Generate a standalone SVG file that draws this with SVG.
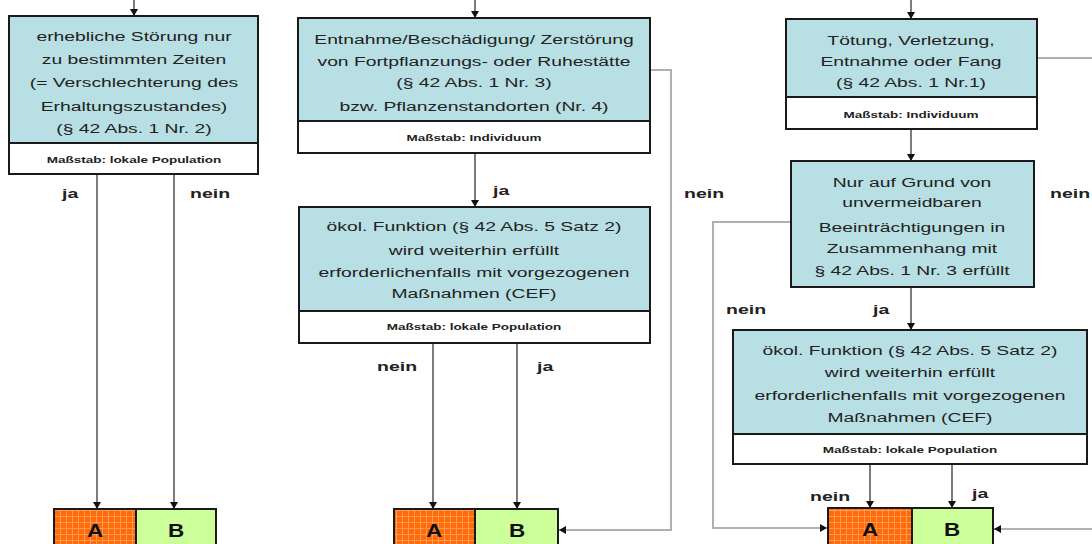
<svg xmlns="http://www.w3.org/2000/svg" width="1092" height="544" viewBox="0 0 1092 544">
<style>
.teal{fill:#b8dfe3;stroke:none}
.white{fill:#ffffff;stroke:none}
.frame{fill:none;stroke:#1a1a1a;stroke-width:2}
.t{font-family:"Liberation Sans",Arial,sans-serif;font-size:13.5px;fill:#222;text-anchor:middle}
.s{font-family:"Liberation Sans",Arial,sans-serif;font-size:9px;font-weight:bold;fill:#222;text-anchor:middle}
.l{font-family:"Liberation Sans",Arial,sans-serif;font-size:13px;font-weight:bold;fill:#222}
.ab{font-family:"Liberation Sans",Arial,sans-serif;font-size:18px;font-weight:bold;fill:#111;text-anchor:middle}
.dark{fill:none;stroke:#444;stroke-width:1.4}
.grey{fill:none;stroke:#b0b0b0;stroke-width:2}
.afill{fill:url(#grid)}
.bfill{fill:#ccff99}
</style>
<defs>
<pattern id="grid" width="6" height="6" patternUnits="userSpaceOnUse">
<rect width="6" height="6" fill="#ff6a0a"/>
<path d="M0 0.5H6M0.5 0V6" stroke="#ff9a50" stroke-width="1"/>
</pattern>
<marker id="arr" markerUnits="userSpaceOnUse" markerWidth="8" markerHeight="8" refX="7" refY="4" orient="auto">
<path d="M0 0L7 4L0 8Z" fill="#111"/>
</marker>
</defs>

<g id="connectors">
<path class="dark" d="M134 0V16" marker-end="url(#arr)"/>
<path class="dark" d="M475 0V18" marker-end="url(#arr)"/>
<path class="dark" d="M911 0V19" marker-end="url(#arr)"/>
<path class="dark" d="M97 174V509" marker-end="url(#arr)"/>
<path class="dark" d="M174 174V509" marker-end="url(#arr)"/>
<path class="dark" d="M475 153V207" marker-end="url(#arr)"/>
<path class="dark" d="M433 343V509" marker-end="url(#arr)"/>
<path class="dark" d="M517 343V509" marker-end="url(#arr)"/>
<path class="dark" d="M911 129V161" marker-end="url(#arr)"/>
<path class="dark" d="M911 287V330" marker-end="url(#arr)"/>
<path class="dark" d="M870 464V508" marker-end="url(#arr)"/>
<path class="dark" d="M952 464V508" marker-end="url(#arr)"/>
<path class="grey" d="M650 70H671V530H559" marker-end="url(#arr)"/>
<path class="grey" d="M791 222H713V528H827" marker-end="url(#arr)"/>
<path class="grey" d="M1037 58H1092"/>
<path class="grey" d="M1092 529H994" marker-end="url(#arr)"/>
</g>

<g id="labels">
<text class="l" transform="translate(62,198) scale(1.5,1)">ja</text>
<text class="l" transform="translate(190,198) scale(1.5,1)">nein</text>
<text class="l" transform="translate(493,195) scale(1.5,1)">ja</text>
<text class="l" transform="translate(684,198) scale(1.5,1)">nein</text>
<text class="l" transform="translate(377,371) scale(1.5,1)">nein</text>
<text class="l" transform="translate(537,371) scale(1.5,1)">ja</text>
<text class="l" transform="translate(1050,198) scale(1.5,1)">nein</text>
<text class="l" transform="translate(726,314) scale(1.5,1)">nein</text>
<text class="l" transform="translate(873,314) scale(1.5,1)">ja</text>
<text class="l" transform="translate(810,501) scale(1.5,1)">nein</text>
<text class="l" transform="translate(972,498) scale(1.5,1)">ja</text>
</g>

<g id="box1">
<rect class="teal" x="9" y="16" width="249" height="127"/>
<rect class="white" x="9" y="143" width="249" height="31"/>
<rect class="frame" x="9" y="16" width="249" height="158"/>
<path class="frame" d="M9 143H258"/>
<text class="t" transform="translate(134,41) scale(1.43,1)">erhebliche Störung nur</text>
<text class="t" transform="translate(134,64) scale(1.43,1)">zu bestimmten Zeiten</text>
<text class="t" transform="translate(134,87) scale(1.43,1)">(= Verschlechterung des</text>
<text class="t" transform="translate(134,111) scale(1.43,1)">Erhaltungszustandes)</text>
<text class="t" transform="translate(134,133) scale(1.43,1)">(§ 42 Abs. 1 Nr. 2)</text>
<text class="s" transform="translate(134,163) scale(1.5,1)">Maßstab: lokale Population</text>
</g>

<g id="box2">
<rect class="teal" x="298" y="18" width="352" height="103"/>
<rect class="white" x="298" y="121" width="352" height="32"/>
<rect class="frame" x="298" y="18" width="352" height="135"/>
<path class="frame" d="M298 121H650"/>
<text class="t" transform="translate(474,44) scale(1.43,1)">Entnahme/Beschädigung/ Zerstörung</text>
<text class="t" transform="translate(474,66) scale(1.43,1)">von Fortpflanzungs- oder Ruhestätte</text>
<text class="t" transform="translate(474,87) scale(1.43,1)">(§ 42 Abs. 1 Nr. 3)</text>
<text class="t" transform="translate(474,111) scale(1.43,1)">bzw. Pflanzenstandorten (Nr. 4)</text>
<text class="s" transform="translate(474,141) scale(1.5,1)">Maßstab: Individuum</text>
</g>

<g id="box3">
<rect class="teal" x="299" y="207" width="351" height="104"/>
<rect class="white" x="299" y="311" width="351" height="32"/>
<rect class="frame" x="299" y="207" width="351" height="136"/>
<path class="frame" d="M299 311H650"/>
<text class="t" transform="translate(474,231) scale(1.43,1)">ökol. Funktion (§ 42 Abs. 5 Satz 2)</text>
<text class="t" transform="translate(474,255) scale(1.43,1)">wird weiterhin erfüllt</text>
<text class="t" transform="translate(474,277) scale(1.43,1)">erforderlichenfalls mit vorgezogenen</text>
<text class="t" transform="translate(474,298) scale(1.43,1)">Maßnahmen (CEF)</text>
<text class="s" transform="translate(474,330) scale(1.5,1)">Maßstab: lokale Population</text>
</g>

<g id="box4">
<rect class="teal" x="786" y="19" width="251" height="78"/>
<rect class="white" x="786" y="97" width="251" height="32"/>
<rect class="frame" x="786" y="19" width="251" height="110"/>
<path class="frame" d="M786 97H1037"/>
<text class="t" transform="translate(911,45) scale(1.43,1)">Tötung, Verletzung,</text>
<text class="t" transform="translate(911,66) scale(1.43,1)">Entnahme oder Fang</text>
<text class="t" transform="translate(911,87) scale(1.43,1)">(§ 42 Abs. 1 Nr.1)</text>
<text class="s" transform="translate(911,118) scale(1.5,1)">Maßstab: Individuum</text>
</g>

<g id="box5">
<rect class="teal" x="791" y="161" width="243" height="126"/>
<rect class="frame" x="791" y="161" width="243" height="126"/>
<text class="t" transform="translate(912,187) scale(1.43,1)">Nur auf Grund von</text>
<text class="t" transform="translate(912,207) scale(1.43,1)">unvermeidbaren</text>
<text class="t" transform="translate(912,232) scale(1.43,1)">Beeinträchtigungen in</text>
<text class="t" transform="translate(912,253) scale(1.43,1)">Zusammenhang mit</text>
<text class="t" transform="translate(912,275) scale(1.43,1)">§ 42 Abs. 1 Nr. 3 erfüllt</text>
</g>

<g id="box6">
<rect class="teal" x="733" y="330" width="354" height="104"/>
<rect class="white" x="733" y="434" width="354" height="30"/>
<rect class="frame" x="733" y="330" width="354" height="134"/>
<path class="frame" d="M733 434H1087"/>
<text class="t" transform="translate(910,355) scale(1.43,1)">ökol. Funktion (§ 42 Abs. 5 Satz 2)</text>
<text class="t" transform="translate(910,377) scale(1.43,1)">wird weiterhin erfüllt</text>
<text class="t" transform="translate(910,400) scale(1.43,1)">erforderlichenfalls mit vorgezogenen</text>
<text class="t" transform="translate(910,422) scale(1.43,1)">Maßnahmen (CEF)</text>
<text class="s" transform="translate(910,453) scale(1.5,1)">Maßstab: lokale Population</text>
</g>

<g id="result1">
<rect class="afill" x="54" y="509" width="82" height="40"/>
<rect class="bfill" x="136" y="509" width="80" height="40"/>
<rect class="frame" x="54" y="509" width="162" height="40"/>
<path class="frame" d="M136 509V549"/>
<text class="ab" transform="translate(95,537) scale(1.25,1)">A</text>
<text class="ab" transform="translate(176,537) scale(1.25,1)">B</text>
</g>

<g id="result2">
<rect class="afill" x="394" y="509" width="81" height="40"/>
<rect class="bfill" x="475" y="509" width="83" height="40"/>
<rect class="frame" x="394" y="509" width="164" height="40"/>
<path class="frame" d="M475 509V549"/>
<text class="ab" transform="translate(434,537) scale(1.25,1)">A</text>
<text class="ab" transform="translate(517,537) scale(1.25,1)">B</text>
</g>

<g id="result3">
<rect class="afill" x="828" y="508" width="84" height="40"/>
<rect class="bfill" x="912" y="508" width="81" height="40"/>
<rect class="frame" x="828" y="508" width="165" height="40"/>
<path class="frame" d="M912 508V548"/>
<text class="ab" transform="translate(870,536) scale(1.25,1)">A</text>
<text class="ab" transform="translate(952,536) scale(1.25,1)">B</text>
</g>
</svg>
